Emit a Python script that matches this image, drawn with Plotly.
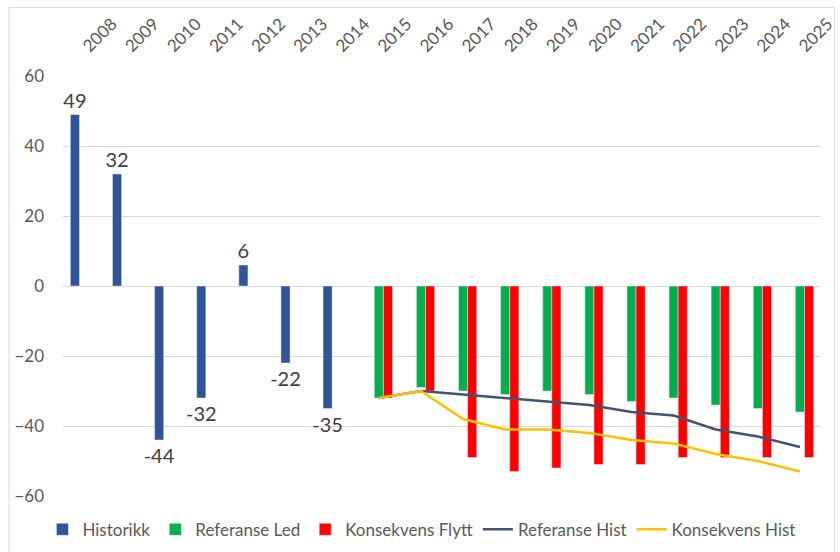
import plotly.graph_objects as go

years = [str(y) for y in range(2008, 2026)]

historikk = [49, 32, -44, -32, 6, -22, -35] + [None] * 11
referanse_led = [None] * 7 + [-32, -29, -30, -31, -30, -31, -33, -32, -34, -35, -36]
konsekvens_flytt = [None] * 7 + [-32, -30, -49, -53, -52, -51, -51, -49, -49, -49, -49]
referanse_hist = [None] * 7 + [-32, -30, -31, -32, -33, -34, -36, -37, -41, -43, -46]
konsekvens_hist = [None] * 7 + [-32, -30, -38, -41, -41, -42, -44, -45, -48, -50, -53]

y_ticks = [60, 40, 20, 0, -20, -40, -60]

FONT = "Lato, 'Open Sans', sans-serif"
W, H = 840, 552
L, R, T, B = 63, 4, 76, 53
pw, ph = W - L - R, H - T - B


def px_x(p):
    return (p - L) / pw


def px_y(p):
    return (H - B - p) / ph


fig = go.Figure()
fig.add_trace(go.Bar(
    x=years, y=historikk, name="Historikk", marker_color="#2F5597",
    text=[None if v is None else str(v) for v in historikk],
    textposition="outside", constraintext="none",
    textfont=dict(size=20, color="#404040", family=FONT),
    cliponaxis=False,
))
fig.add_trace(go.Bar(x=years, y=referanse_led, name="Referanse Led", marker_color="#00B050"))
fig.add_trace(go.Bar(x=years, y=konsekvens_flytt, name="Konsekvens Flytt", marker_color="#FF0000"))
fig.add_trace(go.Scatter(
    x=years, y=referanse_hist, name="Referanse Hist", mode="lines",
    line=dict(color="#44546A", width=2.5),
))
fig.add_trace(go.Scatter(
    x=years, y=konsekvens_hist, name="Konsekvens Hist", mode="lines",
    line=dict(color="#FFC000", width=2.5),
))

fig.update_layout(
    width=W, height=H,
    margin=dict(l=L, r=R, t=T, b=B),
    paper_bgcolor="white", plot_bgcolor="white",
    barmode="group", bargap=0.35, bargroupgap=0,
    font=dict(family=FONT, color="#595959", size=16),
    showlegend=True,
    legend=dict(
        orientation="h", x=px_x(42), xanchor="left", y=px_y(533), yanchor="middle",
        font=dict(size=17, color="#595959", family=FONT),
        itemwidth=30, tracegroupgap=0, traceorder="normal",
    ),
    xaxis=dict(
        type="category", side="top", tickangle=-45, showgrid=False,
        showline=False, ticks="", tickfont=dict(size=17, color="#595959"),
        zeroline=False, ticklabelstandoff=16,
    ),
    yaxis=dict(
        range=[-60, 60], tickvals=y_ticks, showgrid=True, gridcolor="#D9D9D9",
        gridwidth=1, zeroline=True, zerolinecolor="#D9D9D9", zerolinewidth=1,
        showline=False, ticks="", tickfont=dict(size=17, color="#595959"),
        ticklabelstandoff=18,
    ),
    shapes=[dict(
        type="rect", xref="paper", yref="paper",
        x0=px_x(8), x1=px_x(850), y0=px_y(570), y1=px_y(7),
        line=dict(color="#D9D9D9", width=1), fillcolor="rgba(0,0,0,0)", layer="below",
    )],
)

fig.write_html("out.html")
